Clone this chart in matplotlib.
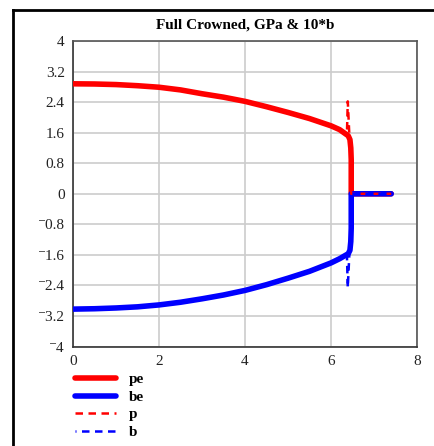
import matplotlib
matplotlib.use("Agg")
import matplotlib.pyplot as plt
from matplotlib.lines import Line2D
from matplotlib.ticker import FixedLocator, FuncFormatter

plt.rcParams['font.family'] = ['Liberation Serif', 'DejaVu Serif']

# Contact pressure (GPa) and 10*half-width along the roller, full crowned profile
x_e = [0, 0.5, 1, 1.5, 2, 2.5, 3, 3.5, 4, 4.5, 5, 5.5, 6, 6.2, 6.4,
       6.44, 6.46, 6.47, 6.47, 7.4]
pe = [2.88, 2.875, 2.86, 2.83, 2.79, 2.72, 2.62, 2.53, 2.42, 2.28, 2.13,
      1.97, 1.78, 1.68, 1.52, 1.42, 1.2, 0.9, 0, 0]
be = [-3.02, -3.01, -2.99, -2.96, -2.91, -2.84, -2.75, -2.65, -2.53, -2.38,
      -2.21, -2.03, -1.81, -1.70, -1.57, -1.48, -1.25, -0.9, 0, 0]

x_p = [0, 0.5, 1, 1.5, 2, 2.5, 3, 3.5, 4, 4.5, 5, 5.5, 6, 6.2, 6.37,
       6.39, 6.43, 6.46, 6.47, 7.4]
p = [2.88, 2.875, 2.86, 2.83, 2.79, 2.72, 2.62, 2.53, 2.42, 2.28, 2.13,
     1.97, 1.78, 1.68, 1.55, 2.42, 1.45, 0.9, 0, 0]
b = [-3.02, -3.01, -2.99, -2.96, -2.91, -2.84, -2.75, -2.65, -2.53, -2.38,
     -2.21, -2.03, -1.81, -1.70, -1.60, -2.46, -1.50, -0.9, 0, 0]

x_ticks = [0, 2, 4, 6, 8]
y_ticks = [-4, -3.2, -2.4, -1.6, -0.8, 0, 0.8, 1.6, 2.4, 3.2, 4]

fig = plt.figure(figsize=(4.35, 4.46), dpi=100)
ax = fig.add_axes([0.168, 0.223, 0.7906, 0.685])

ax.plot(x_e, pe, color='#ff0000', lw=4.0, solid_capstyle='round', label='pe', zorder=3)
ax.plot(x_e, be, color='#0000ff', lw=4.0, solid_capstyle='round', label='be', zorder=4)
ax.plot(x_p, p, color='#ff0000', lw=1.8, ls=(0, (3, 2.2)), label='p', zorder=5)
ax.plot(x_p, b, color='#0000ff', lw=1.8, ls=(2.6, (3, 2.2)), label='b', zorder=6)

ax.set_xlim(0, 8)
ax.set_ylim(-4, 4)
ax.xaxis.set_major_locator(FixedLocator(x_ticks))
ax.yaxis.set_major_locator(FixedLocator(y_ticks))


def fmt(v, pos):
    s = ('%g' % v)
    if s.startswith('-'):
        s = '\u207b' + s[1:]
    return s


ax.xaxis.set_major_formatter(FuncFormatter(fmt))
ax.yaxis.set_major_formatter(FuncFormatter(fmt))
ax.tick_params(length=0, labelsize=11, colors='#222222', pad=6)
ax.grid(True, color='#cccccc', lw=1.2)
ax.set_axisbelow(True)
for side, sp in ax.spines.items():
    sp.set_color('#333333' if side in ('left', 'bottom') else '#555555')
    sp.set_linewidth(1.2)

ax.set_title('Full Crowned, GPa & 10*b', fontsize=11, fontweight='bold', pad=9)

leg = fig.legend(loc='upper left', bbox_to_anchor=(0.158, 0.178), frameon=False,
                 handlelength=2.7, handletextpad=0.85, labelspacing=0.25,
                 prop={'weight': 'bold', 'size': 11}, borderaxespad=0)

# outer frame edges
fig.add_artist(Line2D([13 / 435, 13 / 435], [0, 1 - 10 / 446], color='black', lw=2,
                      transform=fig.transFigure))
fig.add_artist(Line2D([13 / 435, 1], [1 - 10 / 446, 1 - 10 / 446], color='black', lw=2,
                      transform=fig.transFigure))

fig.savefig('out.png', dpi=100)
